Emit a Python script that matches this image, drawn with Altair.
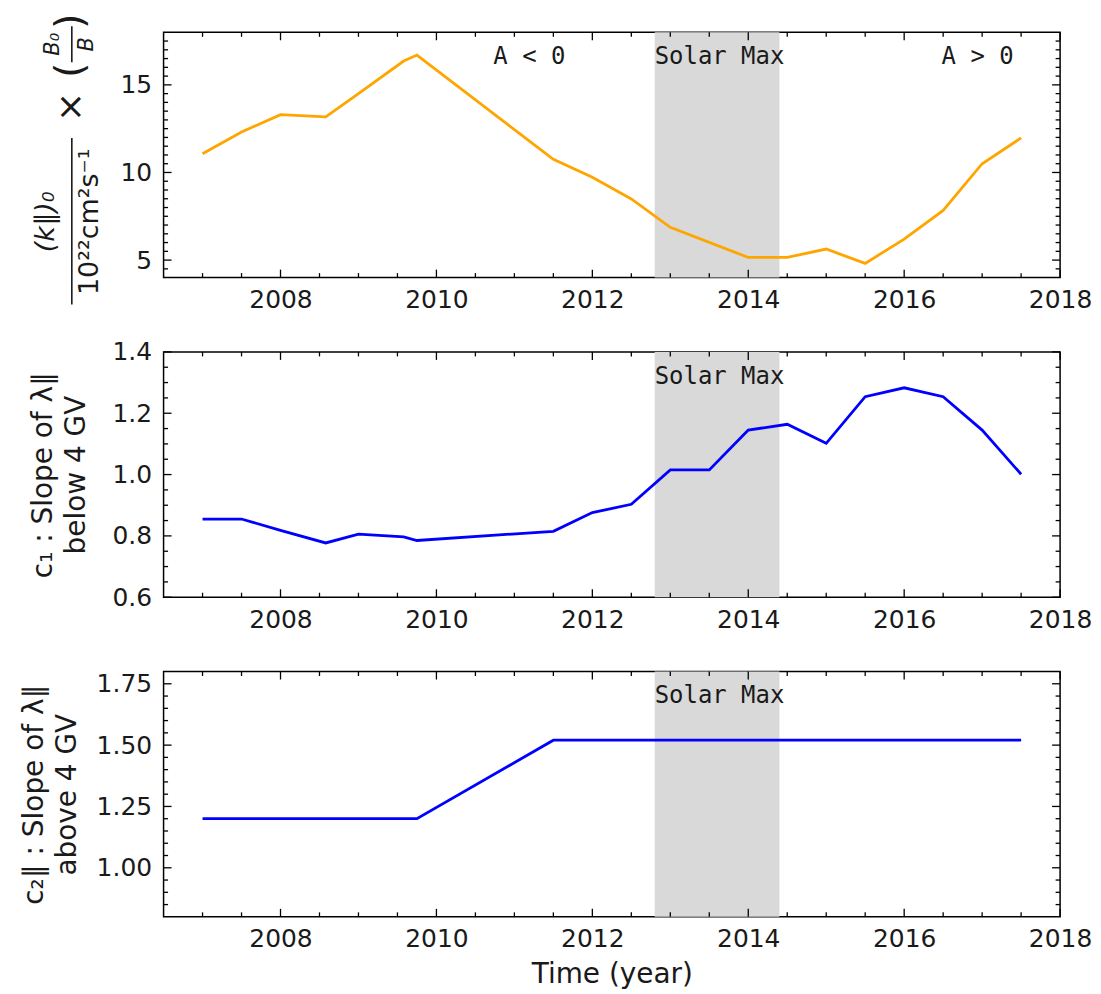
import altair as alt
import pandas as pd

# ---------------- data ----------------
years_k = [2007.0, 2007.5, 2008.0, 2008.58, 2009.0, 2009.58, 2009.75, 2011.5, 2012.0,
           2012.5, 2013.0, 2014.0, 2014.5, 2015.0, 2015.5, 2016.0, 2016.5, 2017.0, 2017.5]
k_values = [11.07, 12.31, 13.30, 13.17, 14.50, 16.36, 16.70, 10.75, 9.73,
            8.49, 6.87, 5.15, 5.15, 5.63, 4.81, 6.20, 7.83, 10.50, 11.97]

years_c1 = [2007.0, 2007.5, 2008.0, 2008.58, 2009.0, 2009.58, 2009.75, 2011.5, 2012.0, 2012.5,
            2013.0, 2013.5, 2014.0, 2014.5, 2015.0, 2015.5, 2016.0, 2016.5, 2017.0, 2017.5]
c1_values = [0.855, 0.855, 0.818, 0.777, 0.806, 0.797, 0.785, 0.815, 0.876, 0.903,
             1.015, 1.015, 1.145, 1.164, 1.102, 1.254, 1.283, 1.254, 1.145, 1.001]

years_c2 = [2007.0, 2009.75, 2011.5, 2017.5]
c2_values = [1.20, 1.20, 1.52, 1.52]

solar_max_start = 2012.8
solar_max_end = 2014.4

x_domain = [2006.5, 2018.0]
x_major_ticks = [2008, 2010, 2012, 2014, 2016, 2018]
x_minor_ticks = [2007.0, 2007.5, 2008.5, 2009.0, 2009.5, 2010.5, 2011.0, 2011.5, 2012.5,
                 2013.0, 2013.5, 2014.5, 2015.0, 2015.5, 2016.5, 2017.0, 2017.5]

k_domain = [4, 18]
k_major_ticks = [5, 10, 15]
k_minor_ticks = [v / 2 for v in range(9, 36) if v % 10 != 0]

c1_domain = [0.6, 1.4]
c1_major_ticks = [0.6, 0.8, 1.0, 1.2, 1.4]
c1_minor_ticks = [round(0.6 + 0.05 * i, 2) for i in range(1, 16) if i % 4 != 0]

c2_domain = [0.8, 1.8]
c2_major_ticks = [1.0, 1.25, 1.5, 1.75]
c2_minor_ticks = [round(0.8 + 0.05 * i, 2) for i in range(1, 20) if (i - 4) % 5 != 0]

# ---------------- styling ----------------
W, H = 899, 246
MAJ, MIN = 8, 4.5
FONT = "DejaVu Sans"
MONO = "DejaVu Sans Mono"
TICK_FS = 25
TITLE_FS = 28
SHADE = "#d9d9d9"
INK = "#1a1a1a"

xscale = alt.Scale(domain=x_domain, nice=False, zero=False)


def tick_layers(yscale, xaxis, yaxis, ymaj, ymin):
    layers = []
    for vals, ln in ((x_major_ticks, MAJ), (x_minor_ticks, MIN)):
        base = alt.Chart(pd.DataFrame({"year": vals})).mark_rule(color="black", strokeWidth=1.3)
        xe = alt.X("year:Q", scale=xscale, axis=xaxis)
        layers.append(base.encode(x=xe, y=alt.value(0), y2=alt.value(ln)))
        layers.append(base.encode(x=xe, y=alt.value(H), y2=alt.value(H - ln)))
    for vals, ln in ((ymaj, MAJ), (ymin, MIN)):
        base = alt.Chart(pd.DataFrame({"val": vals})).mark_rule(color="black", strokeWidth=1.3)
        ye = alt.Y("val:Q", scale=yscale, axis=yaxis)
        layers.append(base.encode(y=ye, x=alt.value(0), x2=alt.value(ln)))
        layers.append(base.encode(y=ye, x=alt.value(W), x2=alt.value(W - ln)))
    return layers


def annot(txt, xval, xaxis):
    return alt.Chart(pd.DataFrame({"year": [xval], "t": [txt]})).mark_text(
        font=MONO, fontSize=24, align="left", baseline="alphabetic", color=INK
    ).encode(x=alt.X("year:Q", scale=xscale, axis=xaxis), y=alt.value(32), text="t:N")


def panel(years, vals, color, ydom, ymaj, ymin, yfmt, ytitle=None, title_x=0,
          xtitle=None, extra=None):
    yscale = alt.Scale(domain=ydom, nice=False, zero=False)

    xaxis_kw = dict(values=x_major_ticks, format="d", labelFontSize=TICK_FS, labelPadding=10,
                    labelFlush=False, labelOverlap=False, ticks=False, domain=False, grid=False)
    if xtitle:
        xaxis_kw.update(title=xtitle, titleFontSize=TITLE_FS, titleBaseline="alphabetic",
                        titleX=W / 2, titleY=66, titleAlign="center")
    else:
        xaxis_kw.update(title=None)

    yaxis_kw = dict(values=ymaj, format=yfmt, labelFontSize=TICK_FS, labelPadding=12,
                    labelFlush=False, labelOverlap=False, ticks=False, domain=False, grid=False)
    if ytitle:
        yaxis_kw.update(title=ytitle, titleFontSize=TITLE_FS, titleAngle=270, titleAlign="center",
                        titleBaseline="alphabetic", titleX=title_x, titleY=H / 2,
                        titleLineHeight=33)
    else:
        yaxis_kw.update(title=None)

    xaxis = alt.Axis(**xaxis_kw)
    yaxis = alt.Axis(**yaxis_kw)

    shade = alt.Chart(pd.DataFrame({"year": [solar_max_start], "e": [solar_max_end]})).mark_rect(
        color=SHADE
    ).encode(x=alt.X("year:Q", scale=xscale, axis=xaxis), x2="e:Q",
             y=alt.value(0), y2=alt.value(H))

    line = alt.Chart(pd.DataFrame({"year": years, "val": vals})).mark_line(
        color=color, strokeWidth=2.8
    ).encode(
        x=alt.X("year:Q", scale=xscale, axis=xaxis),
        y=alt.Y("val:Q", scale=yscale, axis=yaxis),
    )
    layers = [shade, line, annot("Solar Max", solar_max_start, xaxis)]
    if extra:
        layers += extra(xaxis)
    layers += tick_layers(yscale, xaxis, yaxis, ymaj, ymin)
    return alt.layer(*layers).properties(width=W, height=H)


def rot_text(txt, x, y, size, style="normal", align="center"):
    return alt.Chart(pd.DataFrame({"t": [txt]})).mark_text(
        angle=270, align=align, baseline="middle", fontSize=size, font=FONT,
        color=INK, fontStyle=style
    ).encode(x=alt.value(x), y=alt.value(y), text="t:N")


def vbar(x, y1, y2, color=INK, width=1.6):
    return alt.Chart(pd.DataFrame({"a": [0]})).mark_rule(color=color, strokeWidth=width).encode(
        x=alt.value(x), y=alt.value(y1), y2=alt.value(y2)
    )


# white (invisible) anchor that pins the top-left corner of the layout
anchor = vbar(-154, -21, -19, color="white", width=1)

top_title = [
    rot_text("(k∥)₀", -118, 190, 27, "italic"),
    vbar(-92, 106, 273),
    rot_text("10²²cm²s⁻¹", -74, 190, 27),
    rot_text("×", -93, 75, 36),
    rot_text("(", -93, 38, 40),
    rot_text(")", -93, -19, 40, align="right"),
    rot_text("B₀", -111, 12, 21, "italic"),
    vbar(-92, -6, 30),
    rot_text("B", -77, 12, 21, "italic"),
    anchor,
]


def top_extra(xaxis):
    return [annot("A < 0", 2010.73, xaxis), annot("A > 0", 2016.48, xaxis)] + top_title


p1 = panel(years_k, k_values, "#ffa500", k_domain, k_major_ticks, k_minor_ticks, "d",
           extra=top_extra)
p2 = panel(years_c1, c1_values, "#0000ff", c1_domain, c1_major_ticks, c1_minor_ticks, ".1f",
           ytitle=["c₁ : Slope of λ∥", "below 4 GV"], title_x=-112)
p3 = panel(years_c2, c2_values, "#0000ff", c2_domain, c2_major_ticks, c2_minor_ticks, ".2f",
           ytitle=["c₂∥ : Slope of λ∥", "above 4 GV"], title_x=-121, xtitle="Time (year)")

chart = alt.vconcat(p1, p2, p3, spacing=74.5, bounds="flush",
                    padding={"left": 0, "top": 0, "right": 0, "bottom": 0}).configure_view(
    stroke="black", strokeWidth=1.5
).configure_axis(
    labelFont=FONT, titleFont=FONT, labelColor=INK, titleColor=INK,
    titleFontWeight="normal"
)

chart.save("out.html", embed_options={"renderer": "svg", "actions": False})
